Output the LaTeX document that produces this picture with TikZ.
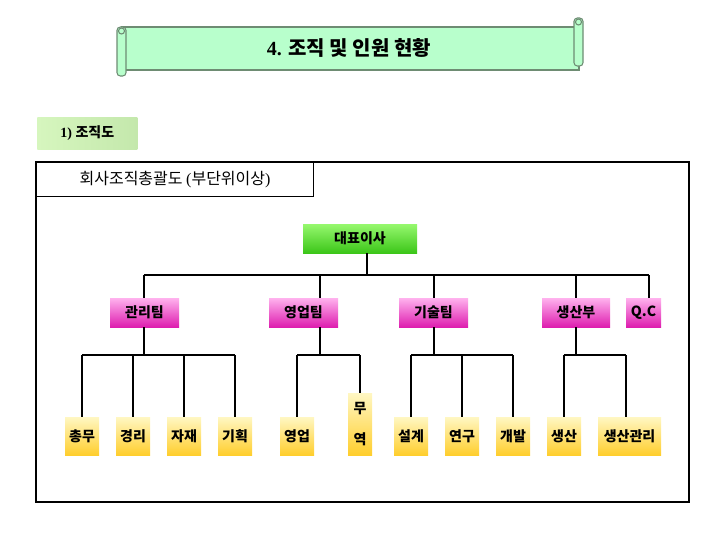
\documentclass[tikz,border=0pt]{standalone}
\usepackage{fontspec}
\setmainfont{Liberation Serif}
\newfontfamily\kr{Noto Sans CJK KR}
\definecolor{scrollgreen}{RGB}{184,255,204}
\definecolor{scrollline}{RGB}{110,140,115}
\definecolor{ceotop}{RGB}{150,248,110}
\definecolor{ceomid}{RGB}{95,228,50}
\definecolor{ceobot}{RGB}{60,198,25}
\definecolor{pinktop}{RGB}{255,178,238}
\definecolor{pinkmid}{RGB}{248,112,222}
\definecolor{pinkbot}{RGB}{222,30,175}
\definecolor{yeltop}{RGB}{255,247,195}
\definecolor{yelbot}{RGB}{255,206,45}
\definecolor{labelgreen}{RGB}{214,246,190}
\definecolor{labelgreen2}{RGB}{196,232,172}
\begin{document}
\begin{tikzpicture}[x=0.75pt,y=-0.75pt,
  conn/.style={black, line width=0.8pt},
  scroll/.style={fill=scrollgreen, draw=scrollline, line width=0.8pt},
  krfont/.style={font={\kr\bfseries\fontsize{10.5pt}{12pt}\selectfont}},
  ceobox/.style={krfont, inner sep=0pt, minimum width=85.5pt, minimum height=21.75pt,
     top color=ceotop, middle color=ceomid, bottom color=ceobot},
  pinkbox/.style={krfont, inner sep=0pt, minimum height=21.75pt,
     top color=pinktop, middle color=pinkmid, bottom color=pinkbot},
  yelbox/.style={krfont, inner sep=0pt, minimum height=28.5pt,
     top color=yeltop, bottom color=yelbot}
]
\useasboundingbox (0,0) rectangle (720,540);

% title scroll
\path[scroll] (122,27) rectangle (579,70);
\path[scroll, rounded corners=2.5pt] (117,27) rectangle (126,76);
\path[scroll, rounded corners=2.5pt] (574,18) rectangle (583,66);
\path[scroll] (121.5,31) circle[radius=3];
\path[scroll] (578.5,22) circle[radius=3];
\node (title) at (349,48) {\fontsize{15pt}{17pt}\selectfont\bfseries 4. {\kr 조직 및 인원 현황}};

% section label
\node[inner sep=0pt, minimum width=75pt, minimum height=24pt,
      left color=labelgreen, right color=labelgreen2, anchor=north west] (sec) at (37,117)
      {\fontsize{10.5pt}{12pt}\selectfont\bfseries 1) {\kr 조직도}};

% frame
\draw[line width=0.8pt] (36,162) rectangle (689,502);
\node[draw, line width=0.8pt, anchor=north west, inner sep=0pt, minimum width=207.75pt, minimum height=25.5pt] (sub) at (36,162)
   {\kr\fontsize{12pt}{14pt}\selectfont 회사조직총괄도 {\rmfamily(}부단위이상{\rmfamily)}};

% CEO
\node[ceobox] (ceo) at (360,238.5) {대표이사};

% middle level
\node[pinkbox, minimum width=51.75pt] (m1) at (144.5,312.5) {관리팀};
\node[pinkbox, minimum width=51.75pt] (m2) at (303.5,312.5) {영업팀};
\node[pinkbox, minimum width=51.75pt] (m3) at (433.5,312.5) {기술팀};
\node[pinkbox, minimum width=51pt] (m4) at (576,312.5) {생산부};
\node[pinkbox, minimum width=26.25pt] (m5) at (643.5,312.5) {Q.C};

% bottom level
\node[yelbox, minimum width=25.5pt] (y1) at (82,436) {총무};
\node[yelbox, minimum width=25.5pt] (y2) at (133,436) {경리};
\node[yelbox, minimum width=25.5pt] (y3) at (184,436) {자재};
\node[yelbox, minimum width=25.5pt] (y4) at (235,436) {기획};
\node[yelbox, minimum width=25.5pt] (y5) at (297,436) {영업};
\node[yelbox, minimum width=18pt, minimum height=46.5pt, align=center] (y6) at (360,424) {무\\[11pt]역};
\node[yelbox, minimum width=25.5pt] (y7) at (411,436) {설계};
\node[yelbox, minimum width=25.5pt] (y8) at (462,436) {연구};
\node[yelbox, minimum width=25.5pt] (y9) at (513,436) {개발};
\node[yelbox, minimum width=25.5pt] (y10) at (564,436) {생산};
\node[yelbox, minimum width=47.25pt] (y11) at (629.5,436) {생산관리};

% connectors: top bus
\coordinate (t0) at (367,275);
\coordinate (t1) at (144,275);
\coordinate (t2) at (320,275);
\coordinate (t3) at (434,275);
\coordinate (t4) at (576,275);
\coordinate (t5) at (649,275);
\draw[conn] (ceo.south -| t0) -- (t0);
\draw[conn] (t1) -- (t5);
\foreach \i in {1,...,5} {\draw[conn] (t\i) -- (t\i |- m\i.north);}

% lower buses
\coordinate (b1) at (144,355);
\coordinate (b2) at (320,355);
\coordinate (b3) at (434,355);
\coordinate (b4) at (576,355);
\foreach \i in {1,...,4} {\draw[conn] (m\i.south -| b\i) -- (b\i);}

\coordinate (c11) at (626,355);
\draw[conn] (y1.north |- b1) -- (y4.north |- b1);
\draw[conn] (y5.north |- b2) -- (y6.north |- b2);
\draw[conn] (y7.north |- b3) -- (y9.north |- b3);
\draw[conn] (y10.north |- b4) -- (c11);
\foreach \i/\b in {1/1,2/1,3/1,4/1,5/2,6/2,7/3,8/3,9/3,10/4} {\draw[conn] (y\i.north |- b\b) -- (y\i.north);}
\draw[conn] (c11) -- (c11 |- y11.north);
\end{tikzpicture}
\end{document}
